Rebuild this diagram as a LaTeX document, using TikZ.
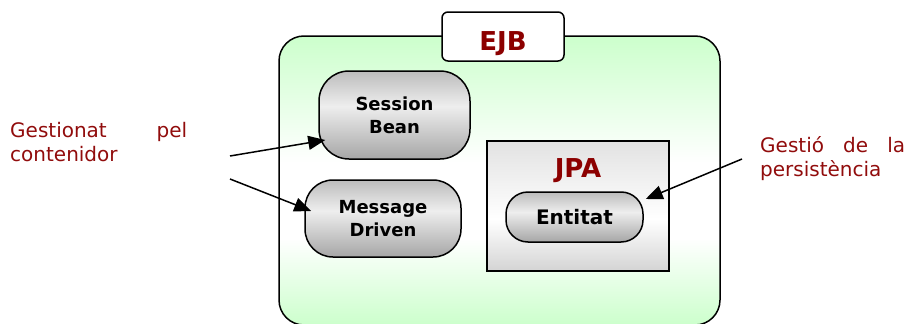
\documentclass[tikz,border=0pt]{standalone}
\usepackage{fontspec}
\setmainfont{DejaVu Sans}
\usetikzlibrary{arrows.meta}

\definecolor{ejbred}{RGB}{140,0,0}
\definecolor{notered}{RGB}{145,12,12}
\definecolor{mint}{RGB}{204,255,204}
\definecolor{beantop}{RGB}{188,188,188}
\definecolor{beanmid}{RGB}{238,238,238}
\definecolor{beanbot}{RGB}{166,166,166}
\definecolor{jpatop}{RGB}{226,226,226}
\definecolor{jpabot}{RGB}{212,212,212}

% vertical shadings: the path spans 25bp (bottom) to 75bp (top)
\pgfdeclareverticalshading{beanshade}{100bp}{color(0bp)=(beanbot); color(25bp)=(beanbot); color(55bp)=(beanmid); color(75bp)=(beantop); color(100bp)=(beantop)}
\pgfdeclareverticalshading{jpashade}{100bp}{color(0bp)=(jpabot); color(25bp)=(jpabot); color(45bp)=(white); color(75bp)=(jpatop); color(100bp)=(jpatop)}
\pgfdeclareverticalshading{ejbshade}{100bp}{color(0bp)=(mint); color(25bp)=(mint); color(40bp)=(white); color(53bp)=(white); color(75bp)=(mint); color(100bp)=(mint)}

\newcommand\notefont{\fontsize{20}{24}\selectfont\hyphenpenalty=10000\relax}

\tikzset{
  frame/.style={draw=black, line width=1.5pt, inner sep=0pt},
  bean/.style={frame, shading=beanshade, align=center,
    font=\fontsize{18}{23}\selectfont\bfseries},
  title/.style={font=\fontsize{26}{30}\selectfont\bfseries, text=ejbred,
    inner sep=0pt, anchor=base},
  note/.style={font=\notefont, text=notered, align=justify,
    inner sep=0pt, anchor=north west},
  arr/.style={line width=1.5pt, -{Triangle[length=17pt,width=14pt]}},
}

\begin{document}
\begin{tikzpicture}[x=1pt,y=-1pt]
\useasboundingbox (0,0) rectangle (908,324);

% EJB container, running past the lower edge
\begin{scope}
  \clip (0,0) rectangle (908,324);
  \node[frame, shading=ejbshade, rounded corners=25pt,
        minimum width=441pt, minimum height=289pt] (ejb) at (499.5,180.5) {};
\end{scope}

% EJB tab
\node[frame, fill=white, rounded corners=6pt,
      minimum width=122pt, minimum height=49pt] (tab) at (503,36.5) {};
\node[title] (ejbt) at (503,50) {EJB};

% beans
\node[bean, rounded corners=30pt, minimum width=151pt, minimum height=88pt]
  (sb) at (394.5,115) {Session\\Bean};
\node[bean, rounded corners=28pt, minimum width=156pt, minimum height=77pt]
  (md) at (383,218.5) {Message\\Driven};

% JPA
\node[frame, shading=jpashade, minimum width=182pt, minimum height=130pt]
  (jpa) at (578,206) {};
\node[title] (jpat) at (578,177) {JPA};
\node[bean, font=\fontsize{20}{24}\selectfont\bfseries, rounded corners=22pt,
      minimum width=137pt, minimum height=50pt]
  (en) at (574.5,217) {Entitat};

% notes
\node[note, text width=177pt] (left) at (10,122) {Gestionat pel\linebreak contenidor};
\node[note, text width=145pt] (right) at (760,136) {Gestió de la\linebreak persistència};

% connectors
\coordinate (g1) at (230,156);
\coordinate (g2) at (230,179);
\coordinate (g3) at (742,159);
\draw[arr] (g1) -- ([xshift=7pt,yshift=-25pt]sb.west);
\draw[arr] (g2) -- ([xshift=7pt,yshift=7.5pt]md.west);
\draw[arr] (g3) -- ([xshift=2pt,yshift=18pt]en.east);
\end{tikzpicture}
\end{document}
